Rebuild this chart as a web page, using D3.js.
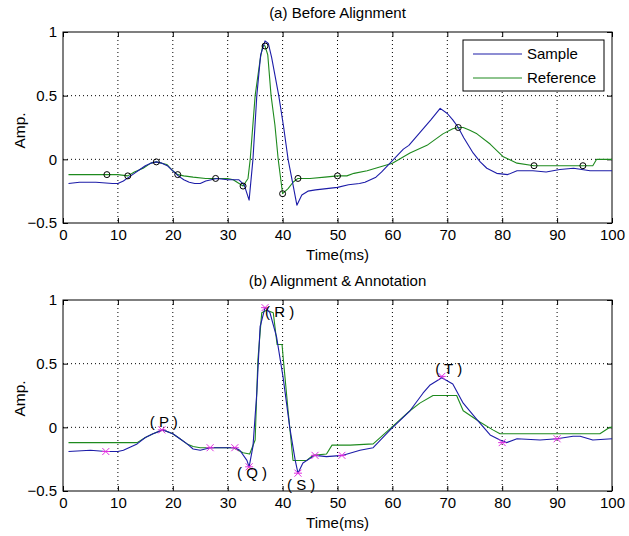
<!DOCTYPE html>
<html>
<head>
<meta charset="utf-8">
<script src="https://cdn.jsdelivr.net/npm/d3@7"></script>
<style>
  body { margin: 0; background: #fff; }
  svg text { font-family: "Liberation Sans", Arial, sans-serif; fill: #000; }
</style>
</head>
<body>
<div id="chart"></div>
<script>
// ---- data ----
// (a) before alignment
var sampleT  = [1, 3, 6, 9, 10, 11, 12, 13, 14, 15, 16, 17, 18, 19, 20, 21, 22, 23, 24, 25, 26, 27, 28, 30, 32, 33,
  33.9, 34.6, 35.3, 36, 36.8, 37.4, 38, 39.3, 40.2, 41, 41.9, 42.6, 43.5, 44.6, 46, 48, 50, 52, 54, 55, 57, 58,
  60, 62, 63, 65, 67, 68.7, 70, 71, 72, 73, 74.7, 76, 77.2, 79, 81, 82.7, 85.6, 88, 90.5, 93, 96, 100];
var sampleA  = [-0.19, -0.18, -0.18, -0.19, -0.19, -0.17, -0.14, -0.11, -0.08, -0.05, -0.03, -0.02, -0.03, -0.05, -0.09,
  -0.13, -0.16, -0.18, -0.19, -0.19, -0.17, -0.16, -0.15, -0.16, -0.16, -0.2,
  -0.32, 0.0, 0.5, 0.82, 0.93, 0.91, 0.8, 0.5, 0.25, 0.0, -0.2, -0.36, -0.28, -0.25, -0.24, -0.23, -0.22, -0.2, -0.19,
  -0.18, -0.14, -0.1, -0.01, 0.08, 0.11, 0.21, 0.31, 0.4, 0.36, 0.31, 0.25, 0.17, 0.05, -0.02, -0.07, -0.11, -0.12,
  -0.09, -0.09, -0.1, -0.08, -0.07, -0.09, -0.09];
var refT     = [1, 4, 8, 10, 11.8, 13, 14.6, 16, 17, 18.9, 20, 20.9, 22, 23.7, 26, 27.8, 30, 31, 32.8, 33.7, 34.1,
  35, 35.9, 36.4, 36.8, 37.3, 37.9, 38.6, 39.2, 40, 41, 41.9, 42.8, 45, 47.7, 50, 51.7, 53, 55.4, 57.7, 60, 63.2,
  66.3, 69.2, 71, 72, 72.9, 74, 75.4, 77.8, 80.2, 82.7, 85.8, 90.5, 94.7, 96.5, 97.2, 100];
var refA     = [-0.12, -0.12, -0.12, -0.12, -0.13, -0.1, -0.07, -0.03, -0.02, -0.04, -0.09, -0.12, -0.13, -0.14,
  -0.15, -0.15, -0.15, -0.16, -0.21, -0.15, 0.0, 0.5, 0.78, 0.9, 0.89, 0.82, 0.5, 0.27, 0.0, -0.27, -0.23, -0.18,
  -0.15, -0.15, -0.14, -0.13, -0.13, -0.11, -0.09, -0.06, -0.03, 0.05, 0.11, 0.2, 0.24, 0.25, 0.25, 0.23, 0.2, 0.12,
  0.02, -0.03, -0.05, -0.05, -0.05, -0.05, 0.0, 0.0];
// circle markers on the reference
var circT    = [8, 11.8, 17, 20.9, 27.8, 32.8, 36.8, 40, 42.8, 50, 72, 85.8, 94.7];
var circA    = [-0.12, -0.13, -0.02, -0.12, -0.15, -0.21, 0.89, -0.27, -0.15, -0.13, 0.25, -0.05, -0.05];

// (b) alignment & annotation
var alignT   = [1, 5, 7.8, 10, 11, 12, 13.5, 15, 16.4, 18.2, 20, 21.3, 22.6, 23.7, 25, 26.8, 29, 31.3, 32.2, 33.5,
  33.9, 34.6, 35.3, 35.9, 36.8, 37.7, 38.9, 40.1, 41.3, 42.3, 42.8, 43.7, 45.5, 45.9, 48, 51, 54.1, 56.5, 59.6,
  63.2, 65.6, 66.8, 69, 71, 72.9, 75.4, 77.8, 79.6, 80.8, 82.7, 86.9, 90, 92.9, 94.2, 96.5, 100];
var alignA   = [-0.19, -0.18, -0.19, -0.19, -0.18, -0.16, -0.13, -0.08, -0.05, -0.02, -0.05, -0.09, -0.13, -0.17,
  -0.18, -0.16, -0.16, -0.16, -0.18, -0.26, -0.31, -0.15, 0.27, 0.79, 0.94, 0.9, 0.71, 0.39, 0.0, -0.26, -0.36,
  -0.28, -0.23, -0.22, -0.23, -0.22, -0.18, -0.16, -0.02, 0.13, 0.27, 0.33, 0.39, 0.34, 0.19, 0.06, -0.06, -0.1,
  -0.12, -0.09, -0.1, -0.09, -0.07, -0.07, -0.1, -0.09];
var ref2T    = [1, 12, 13.5, 15, 16.4, 18.2, 20, 21.3, 22.6, 23.7, 25, 31, 32.8, 34, 35, 35.5, 36.2, 37.1, 38.3, 39,
  39.9, 40.1, 41, 41.9, 44.4, 45.5, 48, 49, 52.3, 56.5, 59.6, 63.2, 65, 67.4, 71.7, 72.9, 76, 78.3, 79.6, 85.6,
  91.8, 97.8, 99.6, 100];
var ref2A    = [-0.12, -0.12, -0.12, -0.08, -0.05, -0.02, -0.05, -0.09, -0.13, -0.15, -0.16, -0.16, -0.2, -0.21,
  -0.1, 0.53, 0.9, 0.92, 0.9, 0.65, 0.65, 0.55, 0.13, -0.26, -0.26, -0.22, -0.21, -0.14, -0.14, -0.13, -0.01, 0.13,
  0.19, 0.25, 0.25, 0.13, 0.04, -0.02, -0.05, -0.05, -0.05, -0.05, 0.0, 0.0];
// annotation points (x markers) on the aligned sample
var markT    = [7.8, 18, 26.8, 31.3, 33.9, 36.8, 42.8, 45.9, 50.8, 69, 80, 90];
var markA    = [-0.19, -0.02, -0.16, -0.16, -0.31, 0.94, -0.36, -0.22, -0.22, 0.4, -0.12, -0.09];
// wave labels and where they sit (data units, left edge / middle)
var waveNames = ["( P )", "( Q )", "( R )", "( S )", "( T )"];
var waveLabT  = [15.8, 31.7, 36.8, 40.8, 67.8];
var waveLabA  = [0.04, -0.36, 0.91, -0.45, 0.46];

var xTicks = [0, 10, 20, 30, 40, 50, 60, 70, 80, 90, 100];
var yTicks = [-0.5, 0, 0.5, 1];
var seriesNames = ["Sample", "Reference"];
var titles = ["(a) Before Alignment", "(b) Alignment & Annotation"];

// ---- drawing ----
var W = 629, H = 536;
var blue = "#1c1ca8", green = "#1e8a1e", magenta = "#e030e0";

var svg = d3.select("#chart").append("svg")
    .attr("width", W).attr("height", H);

function zip(t, a) {
  return t.map(function(v, i) { return {t: v, a: a[i]}; });
}

function panel(top, title) {
  var left = 63, right = 612, bottom = top + 191;
  var x = d3.scaleLinear().domain([0, 100]).range([left, right]);
  var y = d3.scaleLinear().domain([-0.5, 1]).range([bottom, top]);
  var g = svg.append("g");

  g.append("rect").attr("x", left).attr("y", top)
    .attr("width", right - left).attr("height", bottom - top).attr("fill", "#fff");

  // dotted grid
  g.selectAll(".gx").data(xTicks.slice(1, -1)).enter().append("line")
    .attr("x1", d => x(d)).attr("x2", d => x(d)).attr("y1", top).attr("y2", bottom)
    .attr("stroke", "#000").attr("stroke-width", 1).attr("stroke-dasharray", "1,3");
  g.selectAll(".gy").data(yTicks.slice(1, -1)).enter().append("line")
    .attr("y1", d => y(d)).attr("y2", d => y(d)).attr("x1", left).attr("x2", right)
    .attr("stroke", "#000").attr("stroke-width", 1).attr("stroke-dasharray", "1,3");

  // axes with inward ticks
  g.append("g").attr("transform", "translate(0," + bottom + ")")
    .call(d3.axisBottom(x).tickValues(xTicks).tickSizeInner(-5).tickSizeOuter(0).tickPadding(6));
  g.append("g").attr("transform", "translate(" + left + ",0)")
    .call(d3.axisLeft(y).tickValues(yTicks).tickSizeInner(-5).tickSizeOuter(0).tickPadding(6)
      .tickFormat(d3.format("")));
  g.append("g").attr("transform", "translate(0," + top + ")")
    .call(d3.axisTop(x).tickValues(xTicks).tickSizeInner(-5).tickSizeOuter(0).tickFormat(""));
  g.append("g").attr("transform", "translate(" + right + ",0)")
    .call(d3.axisRight(y).tickValues(yTicks).tickSizeInner(-5).tickSizeOuter(0).tickFormat(""));
  g.selectAll(".domain").remove();
  g.selectAll(".tick line").attr("stroke", "#000");
  g.selectAll(".tick text").attr("font-size", 15).attr("font-family", "Liberation Sans, Arial, sans-serif");

  g.append("rect").attr("x", left).attr("y", top)
    .attr("width", right - left).attr("height", bottom - top)
    .attr("fill", "none").attr("stroke", "#000").attr("stroke-width", 1);

  g.append("text").attr("x", (left + right) / 2).attr("y", top - 14)
    .attr("text-anchor", "middle").attr("font-size", 15).text(title);
  g.append("text").attr("x", (left + right) / 2).attr("y", bottom + 37)
    .attr("text-anchor", "middle").attr("font-size", 15).text("Time(ms)");
  g.append("text").attr("transform", "translate(25," + ((top + bottom) / 2 + 3) + ") rotate(-90)")
    .attr("text-anchor", "middle").attr("font-size", 15.5).text("Amp.");

  return {g: g, x: x, y: y, left: left, right: right, top: top, bottom: bottom};
}

function drawLine(p, data, color) {
  var line = d3.line().x(d => p.x(d.t)).y(d => p.y(d.a));
  p.g.append("path").datum(data).attr("d", line)
    .attr("fill", "none").attr("stroke", color).attr("stroke-width", 1.1)
    .attr("stroke-linejoin", "round");
}

// (a)
var pa = panel(32, titles[0]);
drawLine(pa, zip(refT, refA), green);
drawLine(pa, zip(sampleT, sampleA), blue);
pa.g.selectAll(".circ").data(zip(circT, circA)).enter().append("circle")
  .attr("cx", d => pa.x(d.t)).attr("cy", d => pa.y(d.a)).attr("r", 3)
  .attr("fill", "none").attr("stroke", "#000").attr("stroke-width", 1);

// legend
var lg = pa.g.append("g").attr("transform", "translate(" + (pa.right - 149) + "," + (pa.top + 8) + ")");
lg.append("rect").attr("width", 141).attr("height", 51)
  .attr("fill", "#fff").attr("stroke", "#000").attr("stroke-width", 1);
[blue, green].forEach(function(c, i) {
  lg.append("line").attr("x1", 10).attr("x2", 59).attr("y1", 14 + i * 24).attr("y2", 14 + i * 24)
    .attr("stroke", c).attr("stroke-width", 1.1);
  lg.append("text").attr("x", 64).attr("y", 14 + i * 24).attr("dy", "0.35em")
    .attr("font-size", 15).text(seriesNames[i]);
});

// (b)
var pb = panel(300, titles[1]);
drawLine(pb, zip(ref2T, ref2A), green);
drawLine(pb, zip(alignT, alignA), blue);
var mk = pb.g.selectAll(".mk").data(zip(markT, markA)).enter().append("g")
  .attr("transform", d => "translate(" + pb.x(d.t) + "," + pb.y(d.a) + ")");
mk.append("path").attr("d", "M-3.5,-3.5L3.5,3.5M-3.5,3.5L3.5,-3.5M-4,0L4,0")
  .attr("stroke", magenta).attr("stroke-width", 1).attr("fill", "none");
pb.g.selectAll(".wl").data(waveNames).enter().append("text")
  .attr("x", (d, i) => pb.x(waveLabT[i])).attr("y", (d, i) => pb.y(waveLabA[i]))
  .attr("dy", "0.35em").attr("font-size", 15).attr("xml:space", "preserve")
  .style("white-space", "pre").text(d => d);
</script>
</body>
</html>
